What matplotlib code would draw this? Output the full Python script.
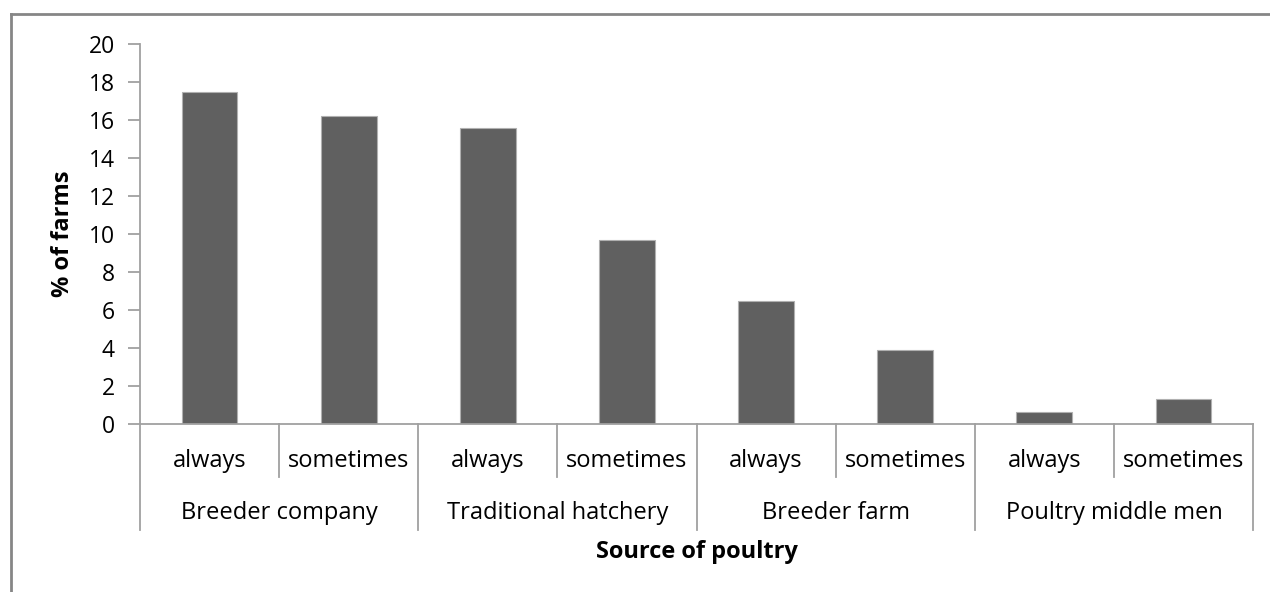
import numpy as np
import matplotlib
matplotlib.use("Agg")
import matplotlib.pyplot as plt
from matplotlib.lines import Line2D

plt.rcParams['font.family'] = ['Open Sans', 'DejaVu Sans']

# data
groups = ['Breeder company', 'Traditional hatchery', 'Breeder farm', 'Poultry middle men']
subs = ['always', 'sometimes']
values = [17.5, 16.2, 15.6, 9.7, 6.5, 3.9, 0.65, 1.3]

axis_col = '#a0a0a0'
bar_col = '#606060'
fs = 17

fig = plt.figure(figsize=(12.7, 5.92), dpi=100)
ax = fig.add_axes([140/1270, 1 - 424/592, 1113/1270, 380/592])

x = np.arange(len(values))
ax.bar(x, values, width=0.40, color=bar_col, edgecolor='#b0b0b0', linewidth=0.8)

ax.set_xlim(-0.5, len(values) - 0.5)
ax.set_ylim(0, 20)
ax.set_yticks(np.arange(0, 21, 2))
ax.set_xticks([])
for s in ['top', 'right']:
    ax.spines[s].set_visible(False)
for s in ['left', 'bottom']:
    ax.spines[s].set_color(axis_col)
    ax.spines[s].set_linewidth(1.3)
ax.tick_params(axis='y', length=9, width=1.3, color=axis_col, labelsize=16.5, pad=9)

tr = ax.get_xaxis_transform()
# sub category labels and short dividers
for i in range(len(values)):
    ax.text(i, -0.097, subs[i % 2], transform=tr, ha='center', va='center', fontsize=fs)
for i in range(len(values) + 1):
    b = i - 0.5
    y_end = -0.278 if i % 2 == 0 else -0.14
    ax.add_line(Line2D([b, b], [0, y_end], transform=tr, color=axis_col, lw=1.3, clip_on=False))
for g, name in enumerate(groups):
    ax.text(2 * g + 0.5, -0.234, name, transform=tr, ha='center', va='center', fontsize=fs)

ax.text(0.5, -0.336, 'Source of poultry', transform=ax.transAxes, ha='center', va='center',
        fontsize=fs, fontweight='bold')
ax.set_ylabel('% of farms', fontsize=fs, fontweight='bold', labelpad=10)

# outer chart frame (only top and left edge visible in the crop)
fig.add_artist(Line2D([11/1270, 1], [1 - 14/592, 1 - 14/592], transform=fig.transFigure, color='#868686', lw=2))
fig.add_artist(Line2D([11/1270, 11/1270], [0, 1 - 14/592], transform=fig.transFigure, color='#868686', lw=2))

fig.savefig('out.png', dpi=100)
